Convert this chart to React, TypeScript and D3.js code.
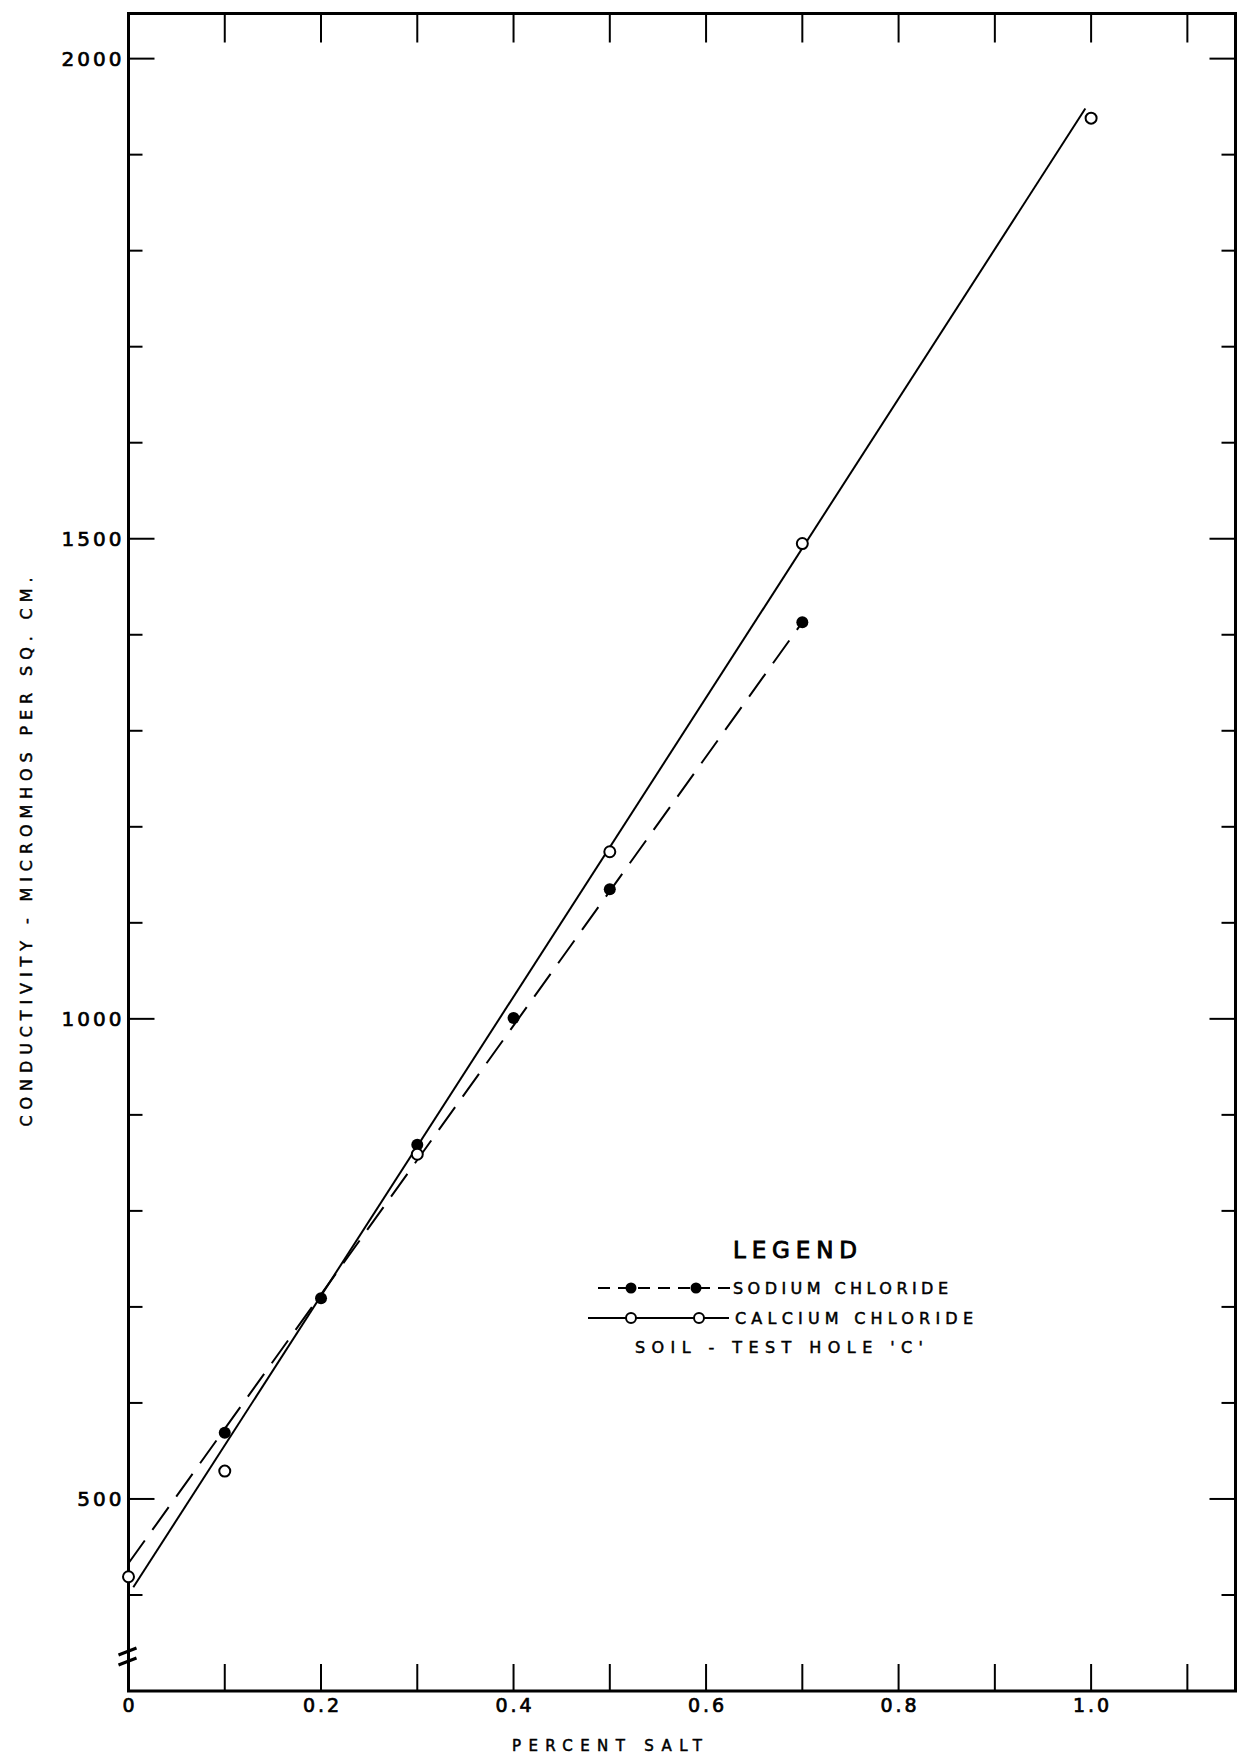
import React from 'react';
import * as d3 from 'd3';

// ---- Data ----
const calciumX = [0, 0.1, 0.3, 0.5, 0.7, 1.0];
const calciumY = [419, 529, 859, 1174, 1495, 1938];
const sodiumX = [0.1, 0.2, 0.3, 0.4, 0.5, 0.7];
const sodiumY = [569, 709, 869, 1001, 1135, 1413];
const calciumFitX = [0.005, 0.994];
const calciumFitY = [408, 1948];
const sodiumFitX = [0, 0.7];
const sodiumFitY = [433, 1413];
const xLabelValues = [0, 0.2, 0.4, 0.6, 0.8, 1.0];
const xLabelTexts = ['0', '0.2', '0.4', '0.6', '0.8', '1.0'];
const xTickValues = [0.1, 0.2, 0.3, 0.4, 0.5, 0.6, 0.7, 0.8, 0.9, 1.0, 1.1];
const yLabelValues = [500, 1000, 1500, 2000];
const yLabelTexts = ['500', '1000', '1500', '2000'];
const yTickValues = [400, 500, 600, 700, 800, 900, 1000, 1100, 1200, 1300, 1400, 1500, 1600, 1700, 1800, 1900, 2000];
const xTitle = 'PERCENT  SALT';
const yTitle = 'CONDUCTIVITY  -  MICROMHOS PER SQ. CM.';
const legendTitle = 'LEGEND';
const legendSodium = 'SODIUM CHLORIDE';
const legendCalcium = 'CALCIUM CHLORIDE';
const legendNote = "SOIL  -  TEST HOLE 'C'";

const W = 1251;
const H = 1757;
const L = 128.5;
const R = 1235.5;
const T = 13.5;
const B = 1691;
const FONT = '"DejaVu Sans", "Liberation Sans", sans-serif';

export default function App() {
  const x = d3.scaleLinear().domain([0, 1.15]).range([L, R]);
  const y = d3.scaleLinear().domain([300, 2047]).range([B, T]);

  const line = d3
    .line<[number, number]>()
    .x((d) => x(d[0]))
    .y((d) => y(d[1]));

  const calciumFit = line(calciumFitX.map((v, i) => [v, calciumFitY[i]] as [number, number])) || '';
  const sodiumFit = line(sodiumFitX.map((v, i) => [v, sodiumFitY[i]] as [number, number])) || '';

  const yMajor = new Set(yLabelValues);

  const by1 = B - 40;
  const by2 = B - 30;

  const textStyle = { fontFamily: FONT, fill: '#000', stroke: '#000', strokeWidth: 0.7 } as const;

  return (
    <svg
      width={W}
      height={H}
      viewBox={`0 0 ${W} ${H}`}
      style={{ position: 'absolute', left: 0, top: 0, background: '#fff' }}
    >
      <rect x={0} y={0} width={W} height={H} fill="#fff" />
      {/* frame */}
      <path
        d={`M${L},${B} L${L},${T} L${R},${T} L${R},${B} Z`}
        fill="none"
        stroke="#000"
        strokeWidth={3}
      />
      {/* x ticks bottom and top */}
      {xTickValues.map((v) => (
        <g key={`xt${v}`}>
          <line x1={x(v)} x2={x(v)} y1={B} y2={B - 27} stroke="#000" strokeWidth={2} />
          <line x1={x(v)} x2={x(v)} y1={T} y2={T + 29} stroke="#000" strokeWidth={2} />
        </g>
      ))}
      {/* y ticks left and right */}
      {yTickValues.map((v) => {
        const len = yMajor.has(v) ? 26 : 14;
        return (
          <g key={`yt${v}`}>
            <line x1={L} x2={L + len} y1={y(v)} y2={y(v)} stroke="#000" strokeWidth={2} />
            <line x1={R} x2={R - len} y1={y(v)} y2={y(v)} stroke="#000" strokeWidth={2} />
          </g>
        );
      })}
      {/* axis break */}
      <line x1={L - 10} y1={by1 + 4} x2={L + 8} y2={by1 - 3} stroke="#000" strokeWidth={3} />
      <line x1={L - 10} y1={by2 + 4} x2={L + 8} y2={by2 - 3} stroke="#000" strokeWidth={3} />

      {/* x labels */}
      {xLabelValues.map((v, i) => (
        <text
          key={`xl${v}`}
          x={x(v) + 1.5}
          y={B + 21}
          textAnchor="middle"
          fontSize={19}
          letterSpacing={3}
          {...textStyle}
        >
          {xLabelTexts[i]}
        </text>
      ))}
      {/* y labels */}
      {yLabelValues.map((v, i) => (
        <text
          key={`yl${v}`}
          x={L - 4}
          y={y(v) + 7.5}
          textAnchor="end"
          fontSize={20}
          letterSpacing={3}
          {...textStyle}
        >
          {yLabelTexts[i]}
        </text>
      ))}
      {/* axis titles */}
      <text
        x={607}
        y={1751}
        textAnchor="middle"
        fontSize={15}
        textLength={190}
        lengthAdjust="spacing"
        {...textStyle}
        strokeWidth={0.5}
      >
        {xTitle}
      </text>
      <text
        transform={`translate(32,852) rotate(-90)`}
        textAnchor="middle"
        fontSize={16}
        textLength={549}
        lengthAdjust="spacing"
        {...textStyle}
        strokeWidth={0.5}
      >
        {yTitle}
      </text>

      {/* fit lines */}
      <path d={sodiumFit} fill="none" stroke="#000" strokeWidth={2} strokeDasharray="28,13" />
      <path d={calciumFit} fill="none" stroke="#000" strokeWidth={2} />

      {/* points */}
      {sodiumX.map((v, i) => (
        <circle key={`s${i}`} cx={x(v)} cy={y(sodiumY[i])} r={6} fill="#000" />
      ))}
      {calciumX.map((v, i) => (
        <circle
          key={`c${i}`}
          cx={x(v)}
          cy={y(calciumY[i])}
          r={5.5}
          fill="#fff"
          stroke="#000"
          strokeWidth={2}
        />
      ))}

      {/* legend */}
      <text
        x={733}
        y={1258}
        fontSize={23}
        textLength={124}
        lengthAdjust="spacing"
        {...textStyle}
        strokeWidth={0.9}
      >
        {legendTitle}
      </text>
      <line x1={598} x2={731} y1={1288} y2={1288} stroke="#000" strokeWidth={2} strokeDasharray="12,8" />
      <circle cx={631} cy={1288} r={5.5} fill="#000" />
      <circle cx={696} cy={1288} r={5.5} fill="#000" />
      <text
        x={733}
        y={1294}
        fontSize={16}
        textLength={215}
        lengthAdjust="spacing"
        {...textStyle}
        strokeWidth={0.5}
      >
        {legendSodium}
      </text>
      <line x1={588} x2={729} y1={1318} y2={1318} stroke="#000" strokeWidth={2} />
      <circle cx={631} cy={1318} r={5} fill="#fff" stroke="#000" strokeWidth={2} />
      <circle cx={699} cy={1318} r={5} fill="#fff" stroke="#000" strokeWidth={2} />
      <text
        x={735}
        y={1324}
        fontSize={16}
        textLength={238}
        lengthAdjust="spacing"
        {...textStyle}
        strokeWidth={0.5}
      >
        {legendCalcium}
      </text>
      <text
        x={635}
        y={1353}
        fontSize={16}
        textLength={288}
        lengthAdjust="spacing"
        {...textStyle}
        strokeWidth={0.5}
      >
        {legendNote}
      </text>
    </svg>
  );
}
